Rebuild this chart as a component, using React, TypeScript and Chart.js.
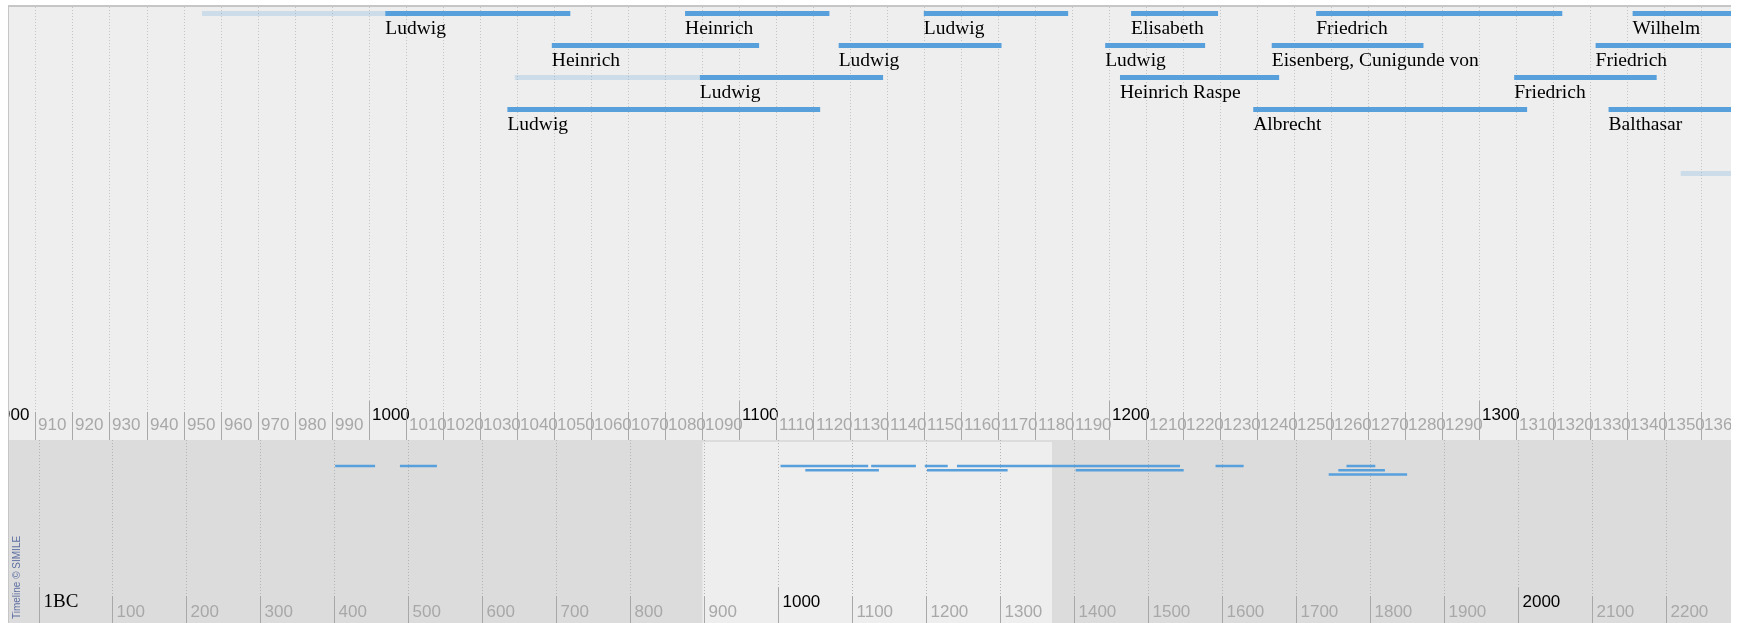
import React, { useEffect, useRef } from 'react';
import { Chart, registerables } from 'chart.js';

Chart.register(...registerables);

// ---------- Data (upper, detailed band: years) ----------
const TOP_NAMES = [
  'Ludwig', 'Heinrich', 'Ludwig', 'Elisabeth', 'Friedrich', 'Wilhelm',
  'Heinrich', 'Ludwig', 'Ludwig', 'Eisenberg, Cunigunde von', 'Friedrich',
  'Ludwig', 'Heinrich Raspe', 'Friedrich',
  'Ludwig', 'Albrecht', 'Balthasar',
  'Friedrich',
];
const TOP_TRACKS = [0, 0, 0, 0, 0, 0, 1, 1, 1, 1, 1, 2, 2, 2, 3, 3, 3, 5];
const TOP_FUZZY_STARTS: (number | null)[] = [
  955, null, null, null, null, null,
  null, null, null, null, null,
  1039.5, null, null,
  null, null, null,
  1354.5,
];
const TOP_STARTS = [
  1004.5, 1085.5, 1150, 1206, 1256, 1341.5,
  1049.5, 1127, 1199, 1244, 1331.5,
  1089.5, 1203, 1309.5,
  1037.5, 1239, 1335,
  1404,
];
const TOP_ENDS = [
  1054.5, 1124.5, 1189, 1229.5, 1322.5, 1407,
  1105.5, 1171, 1226, 1285, 1381,
  1139, 1246, 1348,
  1122, 1313, 1406,
  1440,
];

// ---------- Data (lower, overview band: years) ----------
const LOW_STARTS = [401, 488.5, 1003, 1125.5, 1198, 1241.5, 1591, 1768, 1036.5, 1201, 1402, 1757, 1744];
const LOW_ENDS = [455, 538.5, 1121.5, 1186, 1229, 1543, 1629, 1807, 1136, 1310, 1548, 1820, 1850];
const LOW_ROWS = [0, 0, 0, 0, 0, 0, 0, 0, 1, 1, 1, 1, 2];

// ---------- Axis ticks ----------
const TOP_TICKS: number[] = [];
for (let y = 900; y <= 1370; y += 10) TOP_TICKS.push(y);
const LOW_TICKS = [0, 100, 200, 300, 400, 500, 600, 700, 800, 900, 1000, 1100, 1200, 1300, 1400, 1500, 1600, 1700, 1800, 1900, 2000, 2100, 2200, 2300];
const LOW_TICK_LABELS = ['1BC', '100', '200', '300', '400', '500', '600', '700', '800', '900', '1000', '1100', '1200', '1300', '1400', '1500', '1600', '1700', '1800', '1900', '2000', '2100', '2200', '2300'];

const TOP_RANGE = [902.85, 1368.08];
const LOW_RANGE = [-39.9, 2287.8];
const HIGHLIGHT = [897.5, 1370];

// ---------- Styles / layout ----------
const W = 1744;
const H = 623;
const BAND_SPLIT = 440;
const BAR = '#58a0dc';
const BAR_FAINT = 'rgba(88,160,220,0.22)';
const SANS = '"Liberation Sans", Arial, sans-serif';
const SERIF = '"Liberation Serif", "Times New Roman", serif';

const timelinePlugin = {
  id: 'simileTimeline',
  beforeDraw(chart: any) {
    const { ctx, chartArea: ca, scales } = chart;
    const xT = scales.xTop;
    const xL = scales.xLow;
    const w = ca.right - ca.left;
    ctx.save();
    ctx.fillStyle = '#ffffff';
    ctx.fillRect(0, 0, chart.width, chart.height);
    // borders
    ctx.fillStyle = '#c6c6c6';
    ctx.fillRect(ca.left - 1, ca.top - 2, w + 1, 2);
    ctx.fillRect(ca.left - 1, ca.top - 2, 1, ca.bottom - ca.top + 2);
    // bands
    ctx.fillStyle = '#eeeeee';
    ctx.fillRect(ca.left, ca.top, w, BAND_SPLIT - ca.top);
    ctx.fillStyle = '#dcdcdc';
    ctx.fillRect(ca.left, BAND_SPLIT, w, ca.bottom - BAND_SPLIT);
    const h0 = xL.getPixelForValue(HIGHLIGHT[0]);
    const h1 = xL.getPixelForValue(HIGHLIGHT[1]);
    ctx.fillStyle = '#eeeeee';
    ctx.fillRect(h0, BAND_SPLIT + 2, h1 - h0, ca.bottom - BAND_SPLIT - 2);

    ctx.beginPath();
    ctx.rect(ca.left, ca.top, w, ca.bottom - ca.top);
    ctx.clip();

    // upper band grid, ticks, labels
    ctx.lineWidth = 1;
    TOP_TICKS.forEach((yr) => {
      const x = Math.round(xT.getPixelForValue(yr)) + 0.5;
      const major = yr % 100 === 0;
      ctx.setLineDash([1, 2]);
      ctx.strokeStyle = '#c4c4c4';
      ctx.beginPath();
      ctx.moveTo(x, ca.top);
      ctx.lineTo(x, major ? 401 : 412);
      ctx.stroke();
      ctx.setLineDash([]);
      ctx.strokeStyle = '#a8a8a8';
      ctx.beginPath();
      ctx.moveTo(x, major ? 401 : 412);
      ctx.lineTo(x, BAND_SPLIT);
      ctx.stroke();
      ctx.font = '17px ' + SANS;
      ctx.textBaseline = 'alphabetic';
      ctx.textAlign = 'left';
      ctx.fillStyle = major ? '#000000' : '#a8a8a8';
      ctx.fillText(String(yr), x + 2.5, major ? 419.5 : 429.5);
    });

    // lower band grid, ticks, labels
    LOW_TICKS.forEach((yr, i) => {
      const x = Math.round(xL.getPixelForValue(yr)) + 0.5;
      const major = yr % 1000 === 0;
      ctx.setLineDash([1, 2]);
      ctx.strokeStyle = '#b4b4b4';
      ctx.beginPath();
      ctx.moveTo(x, BAND_SPLIT);
      ctx.lineTo(x, major ? 587 : 596);
      ctx.stroke();
      ctx.setLineDash([]);
      ctx.strokeStyle = '#a8a8a8';
      ctx.beginPath();
      ctx.moveTo(x, major ? 587 : 596);
      ctx.lineTo(x, ca.bottom);
      ctx.stroke();
      const label = LOW_TICK_LABELS[i];
      if (label === '1BC') {
        ctx.font = '19px ' + SERIF;
        ctx.fillStyle = '#000000';
        ctx.fillText(label, x + 4, 606.5);
      } else {
        ctx.font = '17px ' + SANS;
        ctx.fillStyle = major ? '#000000' : '#a8a8a8';
        ctx.fillText(label, x + 4, major ? 606.5 : 617);
      }
    });

    // copyright
    ctx.save();
    ctx.translate(20, 619);
    ctx.rotate(-Math.PI / 2);
    ctx.font = '10px ' + SANS;
    ctx.fillStyle = 'rgba(70,90,150,0.85)';
    ctx.textBaseline = 'alphabetic';
    ctx.fillText('Timeline \u00a9 SIMILE', 0, 0);
    ctx.restore();

    ctx.restore();
  },
  afterDatasetsDraw(chart: any) {
    const { ctx, chartArea: ca, scales } = chart;
    const xT = scales.xTop;
    const yT = scales.yTop;
    ctx.save();
    ctx.beginPath();
    ctx.rect(ca.left, ca.top, ca.right - ca.left, BAND_SPLIT - ca.top);
    ctx.clip();
    ctx.font = '19.5px ' + SERIF;
    ctx.fillStyle = '#000000';
    ctx.textAlign = 'left';
    ctx.textBaseline = 'alphabetic';
    TOP_NAMES.forEach((name, i) => {
      const x = xT.getPixelForValue(TOP_STARTS[i]);
      const y = yT.getPixelForValue(TOP_TRACKS[i]);
      ctx.fillText(name, x, y + 20);
    });
    ctx.restore();
  },
};

function buildDatasets() {
  const ds: any[] = [];
  TOP_NAMES.forEach((name, i) => {
    const fz = TOP_FUZZY_STARTS[i];
    if (fz !== null) {
      ds.push({
        label: name + ' (imprecise)',
        data: [{ x: fz, y: TOP_TRACKS[i] }, { x: TOP_STARTS[i], y: TOP_TRACKS[i] }],
        borderColor: BAR_FAINT,
        borderWidth: 5,
        borderCapStyle: 'butt',
        pointRadius: 0,
        fill: false,
        tension: 0,
        xAxisID: 'xTop',
        yAxisID: 'yTop',
      });
    }
    ds.push({
      label: name,
      data: [{ x: TOP_STARTS[i], y: TOP_TRACKS[i] }, { x: TOP_ENDS[i], y: TOP_TRACKS[i] }],
      borderColor: BAR,
      borderWidth: 5,
      borderCapStyle: 'butt',
      pointRadius: 0,
      fill: false,
      tension: 0,
      xAxisID: 'xTop',
      yAxisID: 'yTop',
    });
  });
  LOW_STARTS.forEach((s, i) => {
    ds.push({
      label: 'overview ' + i,
      data: [{ x: s, y: LOW_ROWS[i] }, { x: LOW_ENDS[i], y: LOW_ROWS[i] }],
      borderColor: BAR,
      borderWidth: 2.5,
      borderCapStyle: 'butt',
      pointRadius: 0,
      fill: false,
      tension: 0,
      xAxisID: 'xLow',
      yAxisID: 'yLow',
    });
  });
  return ds;
}

export default function App() {
  const ref = useRef<HTMLCanvasElement>(null);
  useEffect(() => {
    document.documentElement.style.overflow = 'hidden';
    document.body.style.overflow = 'hidden';
    const top = 7;
    const trackPx = 32;
    const track0 = 13.5;
    const rowPx = 4.2;
    const row0 = 466;
    const plotH = H - top;
    const yTopMin = -(track0 - top) / trackPx;
    const yLowMin = -(row0 - top) / rowPx;
    const chart = new Chart(ref.current as HTMLCanvasElement, {
      type: 'line',
      data: { datasets: buildDatasets() },
      options: {
        responsive: false,
        animation: false,
        devicePixelRatio: 1,
        events: [],
        layout: { padding: { left: 9, top: top, right: 13, bottom: 0 } },
        plugins: { legend: { display: false }, tooltip: { enabled: false } },
        scales: {
          xTop: { type: 'linear', display: false, min: TOP_RANGE[0], max: TOP_RANGE[1] },
          xLow: { type: 'linear', display: false, min: LOW_RANGE[0], max: LOW_RANGE[1] },
          yTop: { type: 'linear', display: false, reverse: true, min: yTopMin, max: yTopMin + plotH / trackPx },
          yLow: { type: 'linear', display: false, reverse: true, min: yLowMin, max: yLowMin + plotH / rowPx },
        },
      } as any,
      plugins: [timelinePlugin],
    });
    return () => chart.destroy();
  }, []);
  return (
    <div style={{ position: 'fixed', left: 0, top: 0, width: W, height: H }}>
      <canvas ref={ref} width={W} height={H} style={{ display: 'block', width: W, height: H }} />
    </div>
  );
}
